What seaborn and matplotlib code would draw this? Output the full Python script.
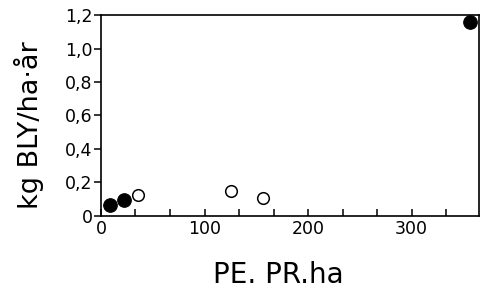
import matplotlib
matplotlib.use('Agg')
import matplotlib.pyplot as plt
import seaborn as sns
import pandas as pd
import numpy as np
from matplotlib.ticker import FuncFormatter, MultipleLocator

# values
filled_x = [9, 22, 356]
filled_y = [0.066, 0.095, 1.16]
open_x = [36, 126, 156]
open_y = [0.125, 0.15, 0.11]
x_ticks = [0, 100, 200, 300]
y_ticks = [0, 0.2, 0.4, 0.6, 0.8, 1.0, 1.2]

df_filled = pd.DataFrame({'pe': filled_x, 'bly': filled_y})
df_open = pd.DataFrame({'pe': open_x, 'bly': open_y})

sns.set_style('white')
plt.rcParams['font.family'] = ['DejaVu Sans']
plt.rcParams['text.color'] = 'black'
plt.rcParams['axes.labelcolor'] = 'black'
plt.rcParams['xtick.color'] = 'black'
plt.rcParams['ytick.color'] = 'black'

fig = plt.figure(figsize=(4.89, 2.95), dpi=100)
ax = fig.add_axes([0.2065, 0.268, 0.773, 0.681])

sns.scatterplot(data=df_filled, x='pe', y='bly', ax=ax, s=95, color='black',
                edgecolor='black', linewidth=0.8, zorder=3)
sns.scatterplot(data=df_open, x='pe', y='bly', ax=ax, s=70, facecolor='white',
                edgecolor='black', linewidth=1.1, zorder=3)

ax.set_xlim(0, 365)
ax.set_ylim(0, 1.2)
ax.set_xticks(x_ticks)
ax.xaxis.set_minor_locator(MultipleLocator(100 / 3))
ax.set_yticks(y_ticks)
# comma decimals as in the original
ax.yaxis.set_major_formatter(FuncFormatter(
    lambda v, p: '0' if abs(v) < 1e-9 else '{:.1f}'.format(v).replace('.', ',')))

for s in ax.spines.values():
    s.set_color('black')
    s.set_linewidth(1.2)

ax.tick_params(axis='x', which='both', direction='in', length=5, width=1.1,
               labelsize=12.5, pad=3, bottom=True)
ax.tick_params(axis='y', which='major', direction='out', length=5, width=1.1,
               labelsize=12.5, pad=1, left=True)

ax.set_xlabel('PE. PR.ha', fontsize=20)
ax.set_ylabel('kg BLY/ha·år', fontsize=19.5)
ax.xaxis.set_label_coords(0.47, -0.225)
ax.yaxis.set_label_coords(-0.15, 0.45)

fig.savefig('out.png', dpi=100)
